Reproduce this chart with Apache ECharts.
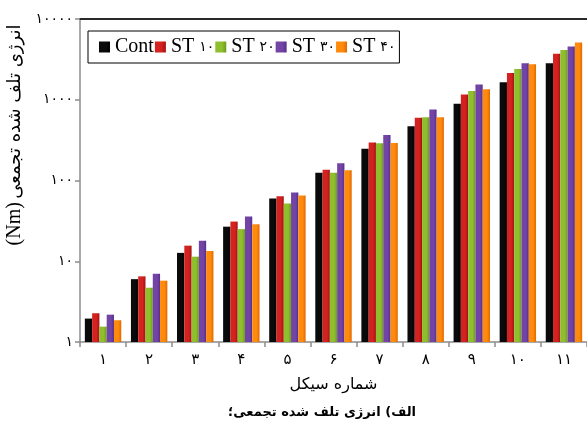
<!DOCTYPE html>
<html>
<head>
<meta charset="utf-8">
<script src="https://cdn.jsdelivr.net/npm/echarts@6/dist/echarts.min.js"></script>
<style>html,body{margin:0;padding:0;background:#fff}#c{width:587px;height:430px}</style>
</head>
<body>
<div id="c"></div>
<script>
// ---- data ----
const categories = ['۱','۲','۳','۴','۵','۶','۷','۸','۹','۱۰','۱۱'];
const seriesNames = ['Cont','ST ۱۰','ST ۲۰','ST ۳۰','ST ۴۰'];
const cont = [1.95, 6.0, 12.7, 26.8, 60, 125, 248, 470, 890, 1650, 2840];
const st10 = [2.27, 6.5, 15.6, 31, 64, 136, 295, 597, 1160, 2150, 3700];
const st20 = [1.55, 4.7, 11.4, 25, 52, 125, 290, 609, 1280, 2410, 4120];
const st30 = [2.18, 7.0, 17.9, 35.7, 71, 164, 367, 757, 1545, 2840, 4560];
const st40 = [1.86, 5.75, 13.4, 28.7, 65, 134, 292, 609, 1353, 2760, 5100];
const yTickLabels = ['۱','۱۰','۱۰۰','۱۰۰۰','۱۰۰۰۰'];
const yTitleUnit = '(Nm)';
const yTitleText = 'انرژی تلف شده تجمعی';
const xTitle = 'شماره سیکل';
const caption = 'الف) انرژی تلف شده تجمعی؛';

// ---- styles ----
const grad = (a, b) => new echarts.graphic.LinearGradient(0, 0, 1, 0, [
  {offset: 0, color: a}, {offset: 0.6, color: a}, {offset: 1, color: b}]);
const colors = [
  grad('#0a0a0a', '#000000'),
  grad('#d3221f', '#a01314'),
  grad('#8fbf2c', '#6f9a1d'),
  grad('#7244a6', '#56308a'),
  grad('#ff8a0c', '#e06800')
];
const allData = [cont, st10, st20, st30, st40];
const persianFont = '"DejaVu Sans", sans-serif';
const serifFont = '"Liberation Serif", "Times New Roman", serif';

const chart = echarts.init(document.getElementById('c'), null, {renderer: 'canvas'});
chart.setOption({
  animation: false,
  backgroundColor: '#fff',
  grid: {left: 80, top: 19, right: -2, bottom: 88, containLabel: false},
  legend: {
    data: seriesNames,
    left: 88, top: 31,
    orient: 'horizontal',
    icon: 'rect',
    itemWidth: 11, itemHeight: 11,
    itemGap: 1,
    padding: [6, 4, 6, 11],
    borderColor: '#000', borderWidth: 1,
    backgroundColor: '#fff',
    formatter: function (name) {
      if (name.indexOf('ST ') === 0) return '{s|ST }{d|' + name.slice(3) + '}';
      return '{s|' + name + '}';
    },
    textStyle: {
      rich: {
        s: {fontFamily: serifFont, fontSize: 20, color: '#000'},
        d: {fontFamily: persianFont, fontSize: 14, color: '#000'}
      }
    }
  },
  xAxis: [{
    type: 'category',
    data: categories,
    position: 'bottom',
    axisLine: {lineStyle: {color: '#8c8c8c', width: 1.5}},
    axisTick: {show: true, length: 5, lineStyle: {color: '#8c8c8c', width: 1.5}},
    axisLabel: {fontFamily: persianFont, fontSize: 15, color: '#000', margin: 11},
    name: xTitle,
    nameLocation: 'middle',
    nameGap: 35,
    nameTextStyle: {fontFamily: persianFont, fontSize: 16, color: '#000'},
    splitLine: {show: false}
  }, {
    type: 'category',
    data: categories,
    position: 'top',
    axisLine: {lineStyle: {color: '#2a2a2a', width: 2}},
    axisTick: {show: false},
    axisLabel: {show: false},
    splitLine: {show: false}
  }],
  yAxis: {
    type: 'log',
    logBase: 10,
    min: 1, max: 10000,
    axisLine: {show: true, lineStyle: {color: '#8c8c8c', width: 1.5}},
    axisTick: {show: true, length: 5, lineStyle: {color: '#8c8c8c', width: 1.5}},
    axisLabel: {
      fontFamily: persianFont, fontSize: 14, color: '#000', margin: 7,
      formatter: function (v) { return yTickLabels[Math.round(Math.log10(v))]; }
    },
    splitLine: {show: false},
    minorTick: {show: false}
  },
  series: seriesNames.map((n, i) => ({
    name: n,
    type: 'bar',
    xAxisIndex: 0,
    data: allData[i],
    barGap: '0%',
    barCategoryGap: '21%',
    itemStyle: {color: colors[i]}
  })),
  graphic: [
    {
      type: 'text',
      x: 15, y: 135,
      rotation: Math.PI / 2,
      style: {
        text: '{u|' + yTitleUnit + '} {t|' + yTitleText + '}',
        align: 'center', verticalAlign: 'middle',
        rich: {
          u: {fontFamily: serifFont, fontSize: 20, fill: '#000'},
          t: {fontFamily: persianFont, fontSize: 18, fill: '#000'}
        }
      }
    },
    {
      type: 'text',
      x: 322, y: 413,
      style: {
        text: caption,
        align: 'center', verticalAlign: 'middle',
        fontFamily: persianFont, fontSize: 13, fontWeight: 'bold', fill: '#000'
      }
    }
  ]
});
</script>
</body>
</html>
